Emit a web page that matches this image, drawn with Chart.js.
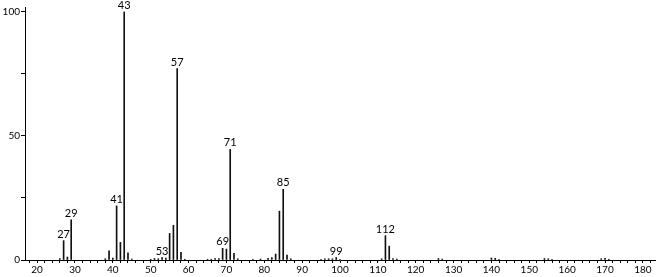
<!DOCTYPE html>
<html>
<head>
<meta charset="utf-8">
<script src="https://cdn.jsdelivr.net/npm/chart.js@4.4.0/dist/chart.umd.min.js"></script>
<style>
  body { margin: 0; background: #fff; }
  canvas { display: block; }
</style>
</head>
<body>
<canvas id="ms" width="656" height="277"></canvas>
<script>
// m/z values and relative intensities
const mz =        [26, 27, 28, 29, 38, 39, 40, 41, 42, 43, 44, 45, 50, 51, 52, 53, 54, 55, 56, 57, 58, 59,
                   65, 66, 67, 68, 69, 70, 71, 72, 73, 77, 79, 81, 82, 83, 84, 85, 86, 87,
                   95, 96, 97, 98, 99, 100, 111, 112, 113, 114, 115, 126, 127, 140, 141, 142, 154, 155, 156, 169, 170, 171]
const intensity = [0.6, 7.8, 1.2, 16.2, 0.5, 3.7, 0.8, 21.8, 7.1, 100, 2.9, 0.4, 0.3, 0.6, 0.5, 1.0, 0.8, 10.7, 14.0, 77.2, 3.1, 0.3,
                   0.3, 0.3, 0.6, 0.6, 4.7, 4.4, 44.6, 2.7, 0.5, 0.3, 0.4, 0.7, 1.0, 2.4, 19.7, 28.5, 2.0, 0.5,
                   0.3, 0.5, 0.5, 0.5, 1.0, 0.3, 0.5, 9.8, 5.6, 0.6, 0.4, 0.6, 0.4, 0.8, 0.7, 0.3, 0.6, 0.5, 0.3, 0.5, 0.7, 0.3]
const labeledPeaks = [27, 29, 41, 43, 53, 57, 69, 71, 85, 99, 112]

const xTickValues = []
for (let v = 18; v <= 182; v += 2) xTickValues.push(v)
const yTickValues = [0, 25, 50, 75, 100]
const yLabeled = [0, 50, 100]

const font = { family: 'Lato, "Open Sans", sans-serif', size: 10 }

const peakLabels = {
  id: 'peakLabels',
  afterDatasetsDraw(chart) {
    const ctx = chart.ctx
    const meta = chart.getDatasetMeta(0)
    ctx.save()
    ctx.fillStyle = '#000'
    ctx.font = '11px ' + font.family
    ctx.textAlign = 'center'
    ctx.textBaseline = 'bottom'
    labeledPeaks.forEach(m => {
      const i = mz.indexOf(m)
      if (i < 0) return
      const el = meta.data[i]
      ctx.fillText(String(m), el.x, el.y - 1)
    })
    ctx.restore()
  }
}

new Chart(document.getElementById('ms'), {
  type: 'bar',
  data: {
    datasets: [{
      data: mz.map((m, i) => ({ x: m, y: intensity[i] })),
      backgroundColor: '#111',
      barThickness: 1,
    }],
  },
  options: {
    responsive: false,
    animation: false,
    layout: { padding: { top: 6, right: 1, left: 0, bottom: 0 } },
    plugins: { legend: { display: false }, tooltip: { enabled: false } },
    scales: {
      x: {
        type: 'linear',
        offset: false,
        min: 16.8,
        max: 183.2,
        afterBuildTicks: axis => { axis.ticks = xTickValues.map(v => ({ value: v })) },
        afterFit: axis => { axis.height = 17 },
        grid: { drawOnChartArea: false, offset: false, tickLength: 3, color: '#000' },
        border: { color: '#000', width: 1 },
        ticks: {
          autoSkip: false,
          maxRotation: 0,
          padding: 1,
          color: '#000',
          font: font,
          callback: v => (v % 10 === 0 ? v : ''),
        },
      },
      y: {
        min: 0,
        max: 102,
        afterBuildTicks: axis => { axis.ticks = yTickValues.map(v => ({ value: v })) },
        afterFit: axis => { axis.width = 25 },
        grid: { drawOnChartArea: false, tickLength: 4, color: '#000' },
        border: { color: '#000', width: 1 },
        ticks: {
          padding: 1,
          color: '#000',
          font: font,
          callback: v => (yLabeled.includes(v) ? v : ''),
        },
      },
    },
  },
  plugins: [peakLabels],
})
</script>
</body>
</html>
